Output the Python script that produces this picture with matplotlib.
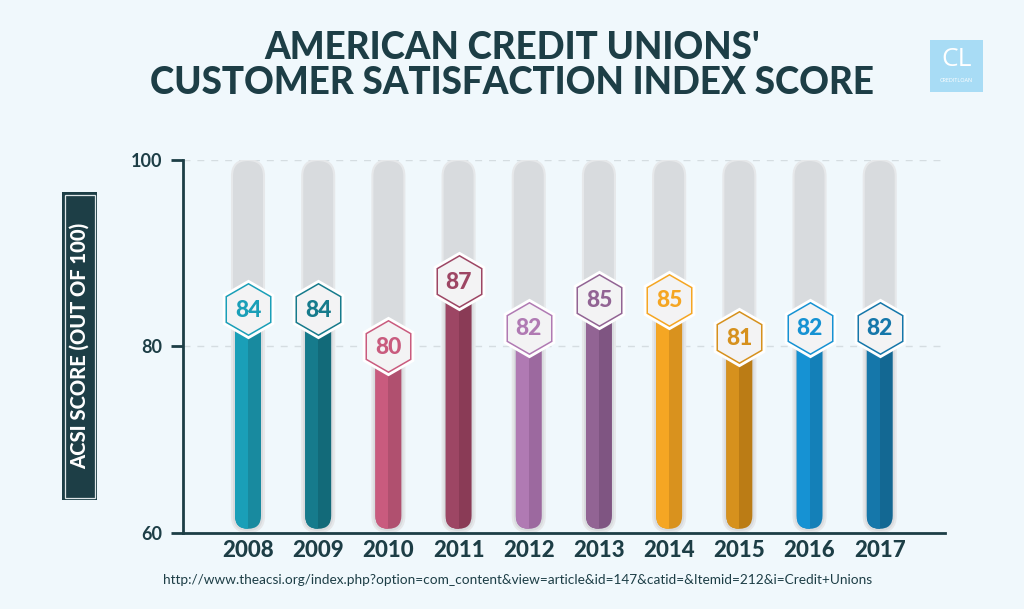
import matplotlib
matplotlib.use('Agg')
import matplotlib.pyplot as plt
import matplotlib.patches as patches

# data
years = ['2008', '2009', '2010', '2011', '2012', '2013', '2014', '2015', '2016', '2017']
scores = [84, 84, 80, 87, 82, 85, 85, 81, 82, 82]
light_colors = ['#1a9fb8', '#167b8c', '#c95b7e', '#9d4664', '#b07ab3', '#926494',
                '#f5a623', '#d6911d', '#1692d3', '#1577aa']
dark_colors = ['#188a9f', '#126a79', '#b0506f', '#8a3b56', '#9c699f', '#7f5582',
               '#d9921e', '#bb7c15', '#1480b8', '#136893']
y_ticks = [60, 80, 100]

BG = '#f0f8fc'
DARK = '#1d3e46'
FONT = 'Lato'

fig = plt.figure(figsize=(10.24, 6.09), dpi=100, facecolor=BG)
ax = fig.add_axes([183/1024, 1 - 533/609, 762/1024, 373/609])
ax.set_facecolor(BG)

ax.set_xlim(-0.926, 9.93)
ax.set_ylim(60, 100)

# pixel -> data scale for rounded shapes
px_x = 1 / 70.2
px_y = 1 / 9.325
aspect = px_y / px_x

ax.grid(axis='y', color='#d5dde1', linestyle=(0, (5, 5)), linewidth=1, zorder=0)
ax.set_axisbelow(True)

for i, (v, lc, dc) in enumerate(zip(scores, light_colors, dark_colors)):
    # grey tube
    gw = 32 * px_x
    tube = patches.FancyBboxPatch(
        (i - gw/2, 60.1), gw, 39.9,
        boxstyle=f"round,pad=0,rounding_size={gw/2}", mutation_aspect=aspect,
        facecolor='#d8dbde', edgecolor='#e6e8ea', linewidth=1.5, zorder=1)
    ax.add_patch(tube)

    # coloured bar (two tones)
    bw = 26 * px_x
    bar = patches.FancyBboxPatch(
        (i - bw/2, 60.45), bw, v - 60.45,
        boxstyle=f"round,pad=0,rounding_size={bw/2}", mutation_aspect=aspect,
        facecolor=dc, edgecolor='none', zorder=2)
    ax.add_patch(bar)
    left = patches.Rectangle((i - bw/2, 60), bw/2, v - 60, facecolor=lc,
                             edgecolor='none', zorder=3)
    ax.add_patch(left)
    left.set_clip_path(bar)

    # hexagon label
    ax.plot(i, v, marker='h', markersize=40, markerfacecolor='#f7f8f9',
            markeredgecolor='#ffffff', markeredgewidth=2.5, zorder=4, clip_on=False)
    ax.plot(i, v, marker='h', markersize=37, markerfacecolor='#f3f3f4',
            markeredgecolor=lc, markeredgewidth=1.1, zorder=5, clip_on=False)
    ax.text(i, v - 0.1, str(v), ha='center', va='center', fontsize=16.5,
            fontweight='black', family=FONT, color=lc, zorder=6)

ax.set_xticks(range(len(years)))
ax.set_xticklabels(years, fontsize=16, fontweight='black', family=FONT, color=DARK)
ax.tick_params(axis='x', length=0, pad=5)
ax.set_yticks(y_ticks)
ax.set_yticklabels([str(t) for t in y_ticks], fontsize=13, fontweight='bold',
                   family=FONT, color=DARK)
ax.tick_params(axis='y', length=9, width=2, color=DARK, pad=6)

for s in ['top', 'right']:
    ax.spines[s].set_visible(False)
for s in ['left', 'bottom']:
    ax.spines[s].set_color(DARK)
    ax.spines[s].set_linewidth(2)

# y label box
fig.patches.append(patches.Rectangle((62/1024, 1 - 500/609), 35/1024, 308/609,
                                     transform=fig.transFigure, facecolor=DARK,
                                     edgecolor='none', zorder=1))
fig.patches.append(patches.Rectangle((64.5/1024, 1 - 497.5/609), 30/1024, 303/609,
                                     transform=fig.transFigure, facecolor='none',
                                     edgecolor='#dfe6e8', linewidth=0.9, zorder=2))
fig.text(79.5/1024, 1 - 346/609, 'ACSI SCORE (OUT OF 100)', rotation=90,
         ha='center', va='center', fontsize=14.5, fontweight='black', family=FONT,
         color='white', zorder=3)

# title
fig.text(0.5, 1 - 48/609, "AMERICAN CREDIT UNIONS'", ha='center', va='center',
         fontsize=26.5, fontweight='black', family=FONT, color=DARK)
fig.text(0.5, 1 - 83/609, "CUSTOMER SATISFACTION INDEX SCORE", ha='center', va='center',
         fontsize=26.5, fontweight='black', family=FONT, color=DARK)

# logo
fig.patches.append(patches.Rectangle((930/1024, 1 - 92/609), 53/1024, 52/609,
                                     transform=fig.transFigure, facecolor='#a8dcf5',
                                     edgecolor='none'))
fig.text(956.5/1024, 1 - 59/609, 'CL', ha='center', va='center', fontsize=19,
         family='Open Sans', color='white')
fig.text(956.5/1024, 1 - 81/609, 'CREDITLOAN', ha='center', va='center', fontsize=4,
         family='Open Sans', color='white')

# source
fig.text(518/1024, 1 - 580/609,
         'http://www.theacsi.org/index.php?option=com_content&view=article&id=147&catid=&Itemid=212&i=Credit+Unions',
         ha='center', va='center', fontsize=9.8, family=FONT, color=DARK)

fig.savefig('out.png', dpi=100, facecolor=BG)
